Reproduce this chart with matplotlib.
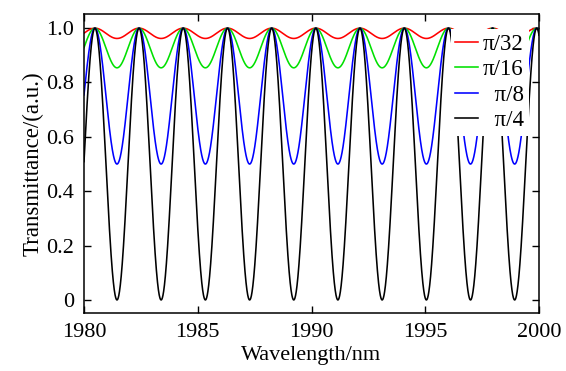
import numpy as np
import matplotlib
matplotlib.use("Agg")
import matplotlib.pyplot as plt

plt.rcParams['font.family'] = ['Liberation Serif', 'DejaVu Serif']

# wartosci
peak_nm = [1980.48, 1982.42, 1984.36, 1986.31, 1988.25, 1990.19,
           1992.13, 1994.08, 1996.02, 1997.96, 1999.90]
labels = ['π/32', 'π/16', '  π/8', '  π/4']
t_min = [0.962, 0.854, 0.50, 0.0]
colors = ['#ff0000', '#00e000', '#0000ff', '#000000']

wl = np.linspace(1980, 2000, 4000)
idx = np.arange(len(peak_nm))
period = (peak_nm[-1] - peak_nm[0]) / (len(peak_nm) - 1)
faza = np.interp(wl, peak_nm, idx)
faza = np.where(wl < peak_nm[0], (wl - peak_nm[0]) / period, faza)
faza = np.where(wl > peak_nm[-1], idx[-1] + (wl - peak_nm[-1]) / period, faza)

fig = plt.figure(figsize=(5.66, 3.71), dpi=100)
ax = fig.add_axes([84/566, 1-313/371, (539-84)/566, (313-14)/371])

for lab, tm, c in zip(labels, t_min, colors):
    T = 1 - (1 - tm) * np.sin(np.pi * faza)**2
    ax.plot(wl, T, color=c, lw=1.15, label=lab)

ax.set_xlim(1980, 2000)
ax.set_ylim(-0.048, 1.052)
ax.set_xticks([1980, 1985, 1990, 1995, 2000])
ax.set_yticks([0, 0.2, 0.4, 0.6, 0.8, 1.0])
ax.set_yticklabels(['0', '0.2', '0.4', '0.6', '0.8', '1.0'])
ax.tick_params(direction='in', top=True, right=True, length=5, width=1,
               labelsize=16, pad=7)
for s in ax.spines.values():
    s.set_linewidth(1.1)

ax.set_xlabel('Wavelength/nm', fontsize=16, labelpad=3)
ax.set_ylabel('Transmittance/(a.u.)', fontsize=16.5, labelpad=2)

leg = ax.legend(loc='upper right', bbox_to_anchor=(0.977, 0.95), fontsize=16.5,
                frameon=True, fancybox=False, framealpha=1, edgecolor='none',
                facecolor='white', handlelength=1.0, handletextpad=0.2,
                labelspacing=0.2, borderpad=0.2, borderaxespad=0)

fig.savefig("out.png", dpi=100)
plt.close()
